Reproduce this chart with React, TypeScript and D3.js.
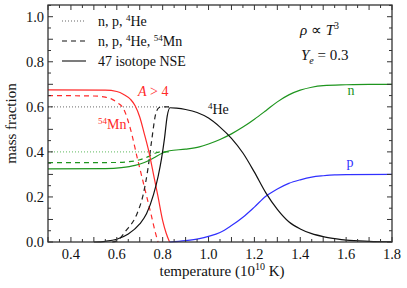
import React from 'react';
import * as d3 from 'd3';

// temperature (10^10 K), mass fraction
const nse4He: [number, number][] = [
  [0.5, 0.0], [0.55, 0.003], [0.6, 0.012], [0.65, 0.035], [0.7, 0.08], [0.73, 0.126],
  [0.76, 0.21], [0.78, 0.29], [0.795, 0.37], [0.808, 0.46], [0.82, 0.56], [0.832, 0.596],
  [0.86, 0.594], [0.9, 0.588], [0.95, 0.575], [1.0, 0.55], [1.05, 0.51], [1.1, 0.46],
  [1.15, 0.395], [1.2, 0.31], [1.25, 0.218], [1.3, 0.145], [1.35, 0.09], [1.4, 0.058],
  [1.45, 0.037], [1.5, 0.024], [1.55, 0.015], [1.6, 0.008], [1.7, 0.003], [1.8, 0.001],
];
const nseN: [number, number][] = [
  [0.3, 0.325], [0.55, 0.326], [0.62, 0.33], [0.68, 0.34], [0.72, 0.353], [0.76, 0.373],
  [0.8, 0.395], [0.83, 0.405], [0.9, 0.412], [0.96, 0.422], [1.0, 0.435], [1.05, 0.455],
  [1.1, 0.48], [1.15, 0.51], [1.2, 0.545], [1.25, 0.583], [1.3, 0.622], [1.35, 0.653],
  [1.4, 0.674], [1.45, 0.687], [1.5, 0.694], [1.6, 0.698], [1.7, 0.7], [1.8, 0.7],
];
const nseP: [number, number][] = [
  [0.83, 0.0], [0.9, 0.006], [0.96, 0.015], [1.0, 0.025], [1.05, 0.042], [1.1, 0.073],
  [1.15, 0.11], [1.2, 0.155], [1.25, 0.203], [1.3, 0.235], [1.35, 0.26], [1.4, 0.276],
  [1.45, 0.288], [1.5, 0.294], [1.55, 0.298], [1.6, 0.299], [1.8, 0.3],
];
const nseHeavy: [number, number][] = [
  [0.3, 0.675], [0.55, 0.674], [0.6, 0.668], [0.63, 0.655], [0.66, 0.633], [0.68, 0.605],
  [0.7, 0.555], [0.72, 0.48], [0.74, 0.4], [0.76, 0.3], [0.78, 0.2], [0.8, 0.095],
  [0.815, 0.04], [0.83, 0.0],
];
const mn54: [number, number][] = [
  [0.3, 0.65], [0.5, 0.648], [0.55, 0.643], [0.58, 0.633], [0.6, 0.62], [0.63, 0.59],
  [0.66, 0.5], [0.69, 0.37], [0.72, 0.245], [0.75, 0.12], [0.77, 0.035], [0.78, 0.0],
];
const mnModel4He: [number, number][] = [
  [0.58, 0.0], [0.6, 0.005], [0.64, 0.05], [0.69, 0.13], [0.715, 0.21], [0.735, 0.32],
  [0.752, 0.45], [0.77, 0.57], [0.785, 0.597], [0.8, 0.6], [0.83, 0.6],
];
const mnModelN: [number, number][] = [
  [0.3, 0.352], [0.6, 0.353], [0.65, 0.356], [0.7, 0.365], [0.74, 0.38], [0.77, 0.395],
  [0.8, 0.4], [0.83, 0.4],
];
const simple4He: [number, number][] = [[0.3, 0.6], [0.83, 0.6]];
const simpleN: [number, number][] = [[0.3, 0.4], [0.83, 0.4]];

const xTickLabels = [0.4, 0.6, 0.8, 1.0, 1.2, 1.4, 1.6, 1.8];
const yTickLabels = [0.0, 0.2, 0.4, 0.6, 0.8, 1.0];

const W = 407;
const H = 288;
const margin = { left: 48, right: 15, top: 5, bottom: 46 };

const RED = '#ff2a2a';
const GREEN = '#1e951e';
const BLUE = '#3030ff';
const FONT = "'Liberation Serif', 'Times New Roman', serif";

export default function App() {
  const x = d3.scaleLinear().domain([0.3, 1.8]).range([margin.left, W - margin.right]);
  const y = d3.scaleLinear().domain([0, 1.052]).range([H - margin.bottom, margin.top]);
  const line = d3
    .line<[number, number]>()
    .x((d) => x(d[0]))
    .y((d) => y(d[1]))
    .curve(d3.curveMonotoneX);

  const x0 = x.range()[0], x1 = x.range()[1];
  const y0 = y.range()[0], y1 = y.range()[1];
  const xMinor = d3.range(0.3, 1.8001, 0.05);
  const yMinor = d3.range(0, 1.0501, 0.05);
  const isMajor = (v: number, step: number) => Math.abs(v / step - Math.round(v / step)) < 1e-6;

  const legend = [
    { dash: '1,2', label: <>n, p, <tspan dy={-5} fontSize={9}>4</tspan><tspan dy={5}>He</tspan></> },
    { dash: '5,4', label: <>n, p, <tspan dy={-5} fontSize={9}>4</tspan><tspan dy={5}>He, </tspan><tspan dy={-5} fontSize={9}>54</tspan><tspan dy={5}>Mn</tspan></> },
    { dash: '', label: <>47 isotope NSE</> },
  ];

  return (
    <svg width={W} height={H} style={{ position: 'absolute', left: 0, top: 0, background: '#fff', fontFamily: FONT }}>
      {/* curves */}
      <g fill="none" strokeWidth={1.2}>
        <path d={line(simple4He)!} stroke="#888" strokeDasharray="1,2" />
        <path d={line(simpleN)!} stroke="#7fc87f" strokeDasharray="1,2" />
        <path d={line(mnModelN)!} stroke={GREEN} strokeDasharray="5,4" />
        <path d={line(mn54)!} stroke={RED} strokeDasharray="5,4" />
        <path d={line(mnModel4He)!} stroke="#222" strokeDasharray="5,4" />
        <path d={line(nseN)!} stroke={GREEN} />
        <path d={line(nseHeavy)!} stroke={RED} />
        <path d={line(nseP)!} stroke={BLUE} />
        <path d={line(nse4He)!} stroke="#111" />
      </g>

      {/* frame and ticks */}
      <g stroke="#333" strokeWidth={1}>
        <rect x={x0} y={y1} width={x1 - x0} height={y0 - y1} fill="none" strokeWidth={1.3} />
        {xMinor.map((v, i) => {
          const len = isMajor(v, 0.1) ? 5 : 3;
          return (
            <g key={'xt' + i}>
              <line x1={x(v)} x2={x(v)} y1={y0} y2={y0 - len} />
              <line x1={x(v)} x2={x(v)} y1={y1} y2={y1 + len} />
            </g>
          );
        })}
        {yMinor.map((v, i) => {
          const len = isMajor(v, 0.1) ? 5 : 3;
          return (
            <g key={'yt' + i}>
              <line x1={x0} x2={x0 + len} y1={y(v)} y2={y(v)} />
              <line x1={x1} x2={x1 - len} y1={y(v)} y2={y(v)} />
            </g>
          );
        })}
      </g>

      {/* tick labels */}
      <g fontSize={14.5} fill="#111">
        {xTickLabels.map((v) => (
          <text key={'xl' + v} x={x(v)} y={y0 + 17} textAnchor="middle">{v.toFixed(1)}</text>
        ))}
        {yTickLabels.map((v) => (
          <text key={'yl' + v} x={x0 - 4} y={y(v) + 5} textAnchor="end">{v.toFixed(1)}</text>
        ))}
      </g>

      {/* axis titles */}
      <text x={(x0 + x1) / 2 + 2} y={H - 12} textAnchor="middle" fontSize={15} fill="#111">
        temperature (10<tspan dy={-6} fontSize={10}>10</tspan><tspan dy={6}> K)</tspan>
      </text>
      <text transform={`translate(16, ${(y0 + y1) / 2}) rotate(-90)`} textAnchor="middle" fontSize={15} fill="#111">
        mass fraction
      </text>

      {/* legend */}
      {legend.map((d, i) => {
        const ly = 25 + i * 20;
        return (
          <g key={'lg' + i}>
            <line x1={62} x2={86} y1={ly - 4} y2={ly - 4} stroke={i === 0 ? '#666' : '#111'} strokeWidth={1.1} strokeDasharray={d.dash} />
            <text x={98} y={ly + 1} fontSize={14} fill="#111">{d.label}</text>
          </g>
        );
      })}

      {/* annotations */}
      <text x={300} y={35} fontSize={15} fill="#111">
        <tspan fontStyle="italic">ρ</tspan> ∝ <tspan fontStyle="italic">T</tspan><tspan dy={-6} fontSize={10}>3</tspan>
      </text>
      <text x={301} y={60} fontSize={15} fill="#111">
        <tspan fontStyle="italic">Y</tspan><tspan dy={4} fontSize={10} fontStyle="italic">e</tspan><tspan dy={-4}> = 0.3</tspan>
      </text>
      <text x={138} y={96} fontSize={14} fill={RED}>
        <tspan fontStyle="italic">A</tspan> &gt; 4
      </text>
      <text x={98} y={129} fontSize={14} fill={RED}>
        <tspan dy={-5} fontSize={9}>54</tspan><tspan dy={5}>Mn</tspan>
      </text>
      <text x={208} y={114} fontSize={14} fill="#111">
        <tspan dy={-5} fontSize={9}>4</tspan><tspan dy={5}>He</tspan>
      </text>
      <text x={351} y={95} fontSize={14} fill={GREEN} textAnchor="middle">n</text>
      <text x={350} y={167} fontSize={14} fill={BLUE} textAnchor="middle">p</text>
    </svg>
  );
}
